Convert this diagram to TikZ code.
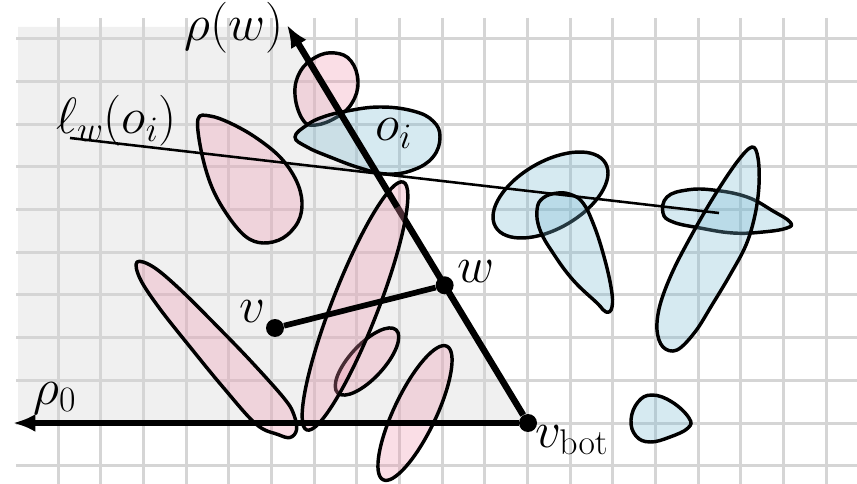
\documentclass[tikz,border=0pt]{standalone}
\usepackage{fix-cm}
\usetikzlibrary{arrows.meta,calc}
\definecolor{gridgray}{RGB}{213,213,213}
\definecolor{regiongray}{RGB}{240,240,240}
\definecolor{pinkf}{RGB}{238,145,172}
\definecolor{bluef}{RGB}{120,185,210}
\begin{document}
\begin{tikzpicture}[x=0.023436cm, y=-0.023436cm,
  gridline/.style={draw=gridgray, line width=2pt},
  pinkblob/.style={draw=black, line width=2.3pt, fill=pinkf, fill opacity=0.3, line join=round},
  blueblob/.style={draw=black, line width=2.3pt, fill=bluef, fill opacity=0.3, line join=round},
  axisline/.style={line width=4.3pt, line cap=butt},
  segline/.style={line width=3.8pt},
  thinline/.style={line width=1.7pt},
  dot/.style={circle, fill=black, inner sep=0pt, minimum size=12pt},
  lab/.style={font=\fontsize{34}{40}\selectfont, inner sep=0pt}]
\useasboundingbox (0,0) rectangle (857,484);
% key points
\coordinate (vbotc) at (528,423);
\coordinate (tip) at (287,25);
\coordinate (brk) at ($(vbotc)!0.542!(tip)$);
\coordinate (wc) at ($(vbotc)!0.346!(tip)$);
\coordinate (rhozerotip) at (13,423);
\coordinate (lstart) at (70,138);
\coordinate (lend) at (719,213);
% shaded region
\fill[regiongray] (18,27) -- (18,423) -- (vbotc) -- ($(vbotc)!0.995!(tip)$) -- cycle;
% grid
\foreach \k in {1,...,19} \draw[gridline] ({15.6+42.67*\k},18) -- ({15.6+42.67*\k},484);
\foreach \j in {-9,...,1} \draw[gridline] (16,{423+42.67*\j}) -- (857,{423+42.67*\j});
% dots
\node[dot] (vbot) at (vbotc) {};
\node[dot] (w) at (wc) {};
\node[dot] (v) at (275,328) {};
% blobs
\draw[pinkblob] plot[smooth cycle, tension=0.6] coordinates {(198,119) (210,116) (230,123) (255,137) (280,157) (296,180) (302,202) (298,222) (283,238) (263,243) (245,236) (226,213) (211,185) (201,150)};
\draw[pinkblob] plot[smooth cycle, tension=0.6] coordinates {(137,262) (153.7,267.2) (180.8,290.1) (216.3,325.4) (251.1,361.4) (284.4,398.7) (294,415) (296.5,430) (290,437.5) (278,434.5) (256,424.1) (222.7,386.8) (190.9,348) (159.8,308.7) (140.3,279.2)};
\draw[pinkblob] plot[smooth cycle, tension=0.7] coordinates {(295,95) (300,72) (316,57) (335,53) (351,61) (358,82) (352,103) (337,117) (316,125) (303,120)};
\draw[blueblob] plot[smooth cycle, tension=0.7] coordinates {(295,137) (307,125) (323,117) (347,111) (380,107) (413,111) (433,121) (440,137) (433,157) (413,170) (387,174) (360,168) (330,157) (307,147)};
\draw[blueblob, rotate around={30:(550.5,195)}] (550.5,195) ellipse [x radius=63.5, y radius=33.5];
\draw[blueblob] plot[smooth cycle, tension=0.7] coordinates {(537,210) (543,198) (558,193) (572,195) (583,203) (593,223) (603,253) (611,287) (612,307) (606,312) (597,303) (573,280) (553,253) (540,230)};
\draw[blueblob] plot[smooth cycle, tension=0.7] coordinates {(663,213) (667,197) (687,190) (713,190) (747,197) (773,211) (790,222) (787,228) (763,232) (733,233) (700,228) (673,222)};
\draw[blueblob] plot[smooth cycle, tension=0.6] coordinates {(752,147) (758,158) (759,185) (755,215) (746,245) (730,275) (712,305) (695,332) (677,350) (663,347) (657,330) (660,305) (672,273) (690,238) (713,198) (737,162)};
\draw[blueblob] plot[smooth cycle, tension=0.7] coordinates {(631,420) (638,402) (652,395) (672,402) (689,418) (688,428) (670,437) (650,442) (636,436)};
\draw[pinkblob, rotate around={47.2:(367,361.5)}] (367,361.5) ellipse [x radius=43, y radius=17];
\draw[pinkblob, rotate around={64.5:(415,413)}] (415,413) ellipse [x radius=74, y radius=21];
% lower part of rho(w) axis, under the tall blob
\draw[axisline] (vbot) -- (brk);
\draw[pinkblob, rotate around={68.7:(355,306)}] (355,306) ellipse [x radius=133, y radius=23];
% axes and lines
\draw[axisline, -{Latex[length=15pt, width=12pt]}] (brk) -- (tip);
\draw[axisline, -{Latex[length=15pt, width=12pt]}] (vbot) -- (rhozerotip);
\draw[segline] (v) -- (w);
\draw[thinline] (lstart) -- (lend);
% labels
\node[lab, anchor=base east] (rhow) at (284,41) {$\rho(w)$};
\node[lab, anchor=base west] (lw) at (56,134) {$\ell_w(o_i)$};
\node[lab, anchor=base west] (oi) at (375,141) {$o_i$};
\node[lab, anchor=base east] (vl) at (266,322) {$v$};
\node[lab, anchor=base west] (wl) at (457,282) {$w$};
\node[lab, anchor=base west] (vbl) at (535,447) {$v_{\mathrm{bot}}$};
\node[lab, anchor=base west] (rz) at (33,404) {$\rho_0$};
\end{tikzpicture}
\end{document}
